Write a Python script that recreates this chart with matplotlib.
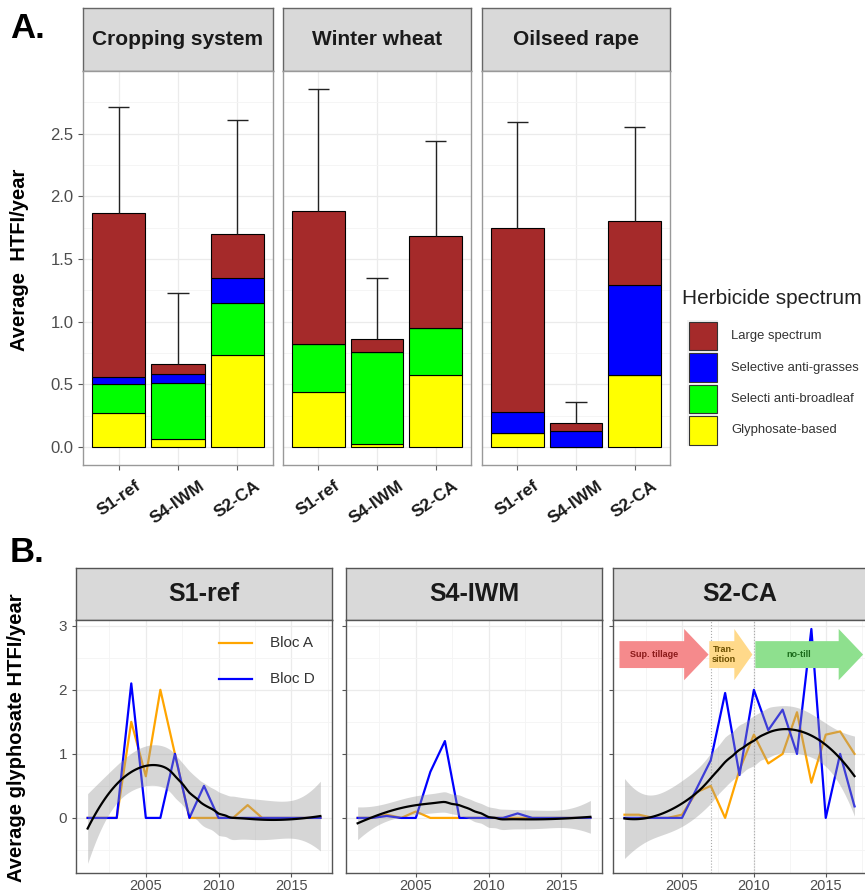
import numpy as np
import matplotlib
matplotlib.use("Agg")
import matplotlib.pyplot as plt
from matplotlib.patches import Rectangle, FancyArrow

plt.rcParams["font.family"] = ["Liberation Sans", "DejaVu Sans"]

W, H = 865, 892

# ---- panel A data: average HTFI per year, stacked by herbicide spectrum
crops = ["Cropping system", "Winter wheat", "Oilseed rape"]
systems = ["S1-ref", "S4-IWM", "S2-CA"]
spectra = ["Glyphosate-based", "Selecti anti-broadleaf",
           "Selective anti-grasses", "Large spectrum"]
spectrum_colors = ["#FFFF00", "#00FF00", "#0000FF", "#A52A2A"]
glyphosate = [[0.27, 0.06, 0.73], [0.44, 0.02, 0.57], [0.11, 0.00, 0.57]]
anti_broadleaf = [[0.23, 0.45, 0.42], [0.38, 0.74, 0.38], [0.00, 0.00, 0.00]]
anti_grasses = [[0.06, 0.07, 0.20], [0.00, 0.00, 0.00], [0.17, 0.13, 0.72]]
large_spectrum = [[1.31, 0.08, 0.35], [1.06, 0.10, 0.73], [1.47, 0.06, 0.51]]
htfi_sd = [[0.84, 0.57, 0.91], [0.98, 0.49, 0.76], [0.84, 0.17, 0.75]]

# ---- panel B data: glyphosate HTFI per year and bloc
years = list(range(2001, 2018))
bloc_names = ["Bloc A", "Bloc D"]
bloc_colors = ["#FFA500", "#0000FF"]
s1_bloc_a = [0, 0, 0, 1.5, 0.65, 2.0, 1.0, 0, 0, 0, 0, 0.2, 0, 0, 0, 0, 0]
s1_bloc_d = [0, 0, 0, 2.1, 0, 0, 1.0, 0, 0.5, 0, 0, 0, 0, 0, 0, 0, 0]
s4_bloc_a = [0, 0, 0.05, 0, 0.1, 0, 0, 0, 0, 0, 0, 0, 0, 0, 0, 0, 0]
s4_bloc_d = [0, 0, 0.03, 0, 0, 0.72, 1.2, 0, 0, 0, 0, 0.07, 0, 0, 0, 0, 0]
s2_bloc_a = [0.05, 0.05, 0, 0, 0.05, 0.4, 0.5, 0, 0.75, 1.3, 0.85, 1.0, 1.65,
             0.55, 1.3, 1.35, 1.0]
s2_bloc_d = [0, 0, 0, 0, 0, 0.45, 0.9, 1.95, 0.67, 2.0, 1.37, 1.69, 1.0,
             2.95, 0, 1.0, 0.18]

# S2-CA tillage phases
phases = ["Sup. tillage", "Tran-\nsition", "no-till"]
phase_start = [2000.65, 2006.9, 2010.1]
phase_end = [2006.85, 2009.9, 2017.6]
phase_colors = ["#F58A8C", "#FFD98A", "#8EE08E"]
phase_text_colors = ["#8B1A1A", "#6B4E00", "#1B6B1B"]


def px_axes(fig, x0, y0, x1, y1):
    return fig.add_axes([x0 / W, 1 - y1 / H, (x1 - x0) / W, (y1 - y0) / H])


def strip(fig, x0, y0, x1, y1, label, size, edge):
    ax = px_axes(fig, x0, y0, x1, y1)
    ax.set_facecolor("#D9D9D9")
    ax.set_xticks([])
    ax.set_yticks([])
    for s in ax.spines.values():
        s.set_color(edge)
        s.set_linewidth(1.0)
    ax.text(0.5, 0.5, label, ha="center", va="center", fontsize=size,
            fontweight="bold", color="#1A1A1A", transform=ax.transAxes)


def loess(x, y, xnew, span=0.75):
    # local quadratic fit, tricube weights (like R loess defaults)
    x = np.asarray(x, float)
    y = np.asarray(y, float)
    n = len(x)
    q = int(np.floor(n * span))

    def row(x0):
        d = np.abs(x - x0)
        h = np.sort(d)[q - 1] * 1.0001
        w = np.clip(1 - (d / h) ** 3, 0, None) ** 3
        X = np.vander(x - x0, 3, increasing=True)
        A = X.T @ (w[:, None] * X)
        return np.linalg.solve(A, X.T * w)[0]

    L = np.array([row(v) for v in x])
    resid = y - L @ y
    M = (np.eye(n) - L).T @ (np.eye(n) - L)
    d1 = np.trace(M)
    d2 = np.trace(M @ M)
    sigma = np.sqrt(resid @ resid / d1)
    df = d1 ** 2 / d2
    z = 1.959964
    tq = z + (z ** 3 + z) / (4 * df) + (5 * z ** 5 + 16 * z ** 3 + 3 * z) / (96 * df ** 2)
    Ln = np.array([row(v) for v in xnew])
    fit = Ln @ y
    se = sigma * np.sqrt((Ln ** 2).sum(axis=1))
    return fit, fit - tq * se, fit + tq * se


fig = plt.figure(figsize=(W / 100, H / 100), dpi=100)

# ================= A =================
fig.text(10 / W, 1 - 28 / H, "A.", fontsize=25, fontweight="bold",
         ha="left", va="center")
fig.text(20 / W, 1 - 260 / H, "Average  HTFI/year", fontsize=14.5,
         fontweight="bold", rotation=90, ha="center", va="center")

a_x = [(83, 273), (283, 471), (482, 670)]
stack = [glyphosate, anti_broadleaf, anti_grasses, large_spectrum]
pos = np.arange(len(systems))
for c, crop in enumerate(crops):
    x0, x1 = a_x[c]
    strip(fig, x0, 8, x1, 71, crop, 15, "#666666")
    ax = px_axes(fig, x0, 71, x1, 465)
    ax.set_xlim(-0.6, 2.6)
    ax.set_ylim(-0.145, 3.0)
    ax.set_yticks(np.arange(0, 2.51, 0.5))
    ax.set_yticks(np.arange(0.25, 2.8, 0.5), minor=True)
    ax.set_xticks(pos)
    ax.grid(True, which="major", color="#EBEBEB", lw=0.9)
    ax.grid(True, which="minor", axis="y", color="#F4F4F4", lw=0.6)
    ax.set_axisbelow(True)
    bottom = np.zeros(len(systems))
    for vals, col in zip(stack, spectrum_colors):
        v = np.array(vals[c])
        ax.bar(pos, v, 0.9, bottom=bottom, color=col, edgecolor="black",
               linewidth=0.8, zorder=2)
        bottom = bottom + v
    sd = np.array(htfi_sd[c])
    ax.vlines(pos, bottom, bottom + sd, color="#222222", lw=1.0, zorder=3)
    ax.hlines(bottom + sd, pos - 0.18, pos + 0.18, color="#222222", lw=1.0,
              zorder=3)
    ax.set_xticklabels(systems, rotation=35, ha="center", va="top",
                       fontsize=12.5, fontweight="bold", color="#1A1A1A")
    if c == 0:
        ax.set_yticklabels([f"{t:.1f}" for t in np.arange(0, 2.51, 0.5)],
                           fontsize=12, color="#4D4D4D")
    else:
        ax.tick_params(axis="y", which="both", left=False, labelleft=False)
    ax.tick_params(axis="both", which="major", length=3.5, color="#555555",
                   width=0.8)
    ax.tick_params(axis="x", pad=6)
    ax.tick_params(axis="y", which="minor", left=False)
    for s in ax.spines.values():
        s.set_color("#999999")
        s.set_linewidth(1.0)

# legend for A
lax = px_axes(fig, 675, 280, 865, 455)
lax.set_xlim(675, 865)
lax.set_ylim(455, 280)
lax.axis("off")
lax.text(682, 298, "Herbicide spectrum", fontsize=15, color="#222222",
         ha="left", va="center")
for i, (name, col) in enumerate(zip(spectra[::-1], spectrum_colors[::-1])):
    y0 = 320 + i * 31.5
    lax.add_patch(Rectangle((687, y0), 31, 31.5, facecolor="#F2F2F2",
                            edgecolor="none"))
    lax.add_patch(Rectangle((689, y0 + 1.5), 28, 28.5, facecolor=col,
                            edgecolor="#333333", lw=0.8))
    lax.text(731, y0 + 16, name, fontsize=9.4, color="#333333", ha="left",
             va="center")

# ================= B =================
fig.text(10 / W, 1 - 552 / H, "B.", fontsize=25, fontweight="bold",
         ha="left", va="center")
fig.text(17 / W, 1 - 738 / H, "Average glyphosate HTFI/year", fontsize=14.5,
         fontweight="bold", rotation=90, ha="center", va="center")

b_x = [(76, 332), (346, 602), (613, 866)]
b_systems = ["S1-ref", "S4-IWM", "S2-CA"]
b_data = [(s1_bloc_a, s1_bloc_d), (s4_bloc_a, s4_bloc_d), (s2_bloc_a, s2_bloc_d)]
yr = np.array(years, float)
xs = np.linspace(yr.min(), yr.max(), 120)
for k, name in enumerate(b_systems):
    x0, x1 = b_x[k]
    strip(fig, x0, 568, x1, 620, name, 18, "#555555")
    ax = px_axes(fig, x0, 620, x1, 873)
    ax.set_xlim(2000.2, 2017.8)
    ax.set_ylim(-0.86, 3.09)
    ax.set_xticks([2005, 2010, 2015])
    ax.set_xticks([2002.5, 2007.5, 2012.5, 2017.5], minor=True)
    ax.set_yticks([0, 1, 2, 3])
    ax.set_yticks([-0.5, 0.5, 1.5, 2.5], minor=True)
    ax.grid(True, which="major", color="#EBEBEB", lw=0.9)
    ax.grid(True, which="minor", color="#F4F4F4", lw=0.6)
    ax.set_axisbelow(True)
    bloc_a, bloc_d = b_data[k]
    for vals, col in zip((bloc_a, bloc_d), bloc_colors):
        ax.plot(yr, vals, color=col, lw=1.6, zorder=2)
    fit, lo, hi = loess(np.concatenate([yr, yr]),
                        np.concatenate([bloc_a, bloc_d]), xs)
    ax.fill_between(xs, lo, hi, color="#999999", alpha=0.4, lw=0, zorder=3)
    ax.plot(xs, fit, color="black", lw=1.6, zorder=4)
    ax.tick_params(axis="both", which="major", length=3, color="#555555",
                   width=0.8, labelsize=11, labelcolor="#4D4D4D")
    ax.tick_params(axis="x", labelsize=10.5, pad=1)
    ax.tick_params(which="minor", length=0)
    if k > 0:
        ax.tick_params(axis="y", labelleft=False)
    for s in ax.spines.values():
        s.set_color("#555555")
        s.set_linewidth(1.0)

    if k == 0:
        for i, (bn, col) in enumerate(zip(bloc_names, bloc_colors)):
            yy = 0.910 - i * 0.145
            ax.plot([0.559, 0.6875], [yy, yy], color=col, lw=1.6,
                    transform=ax.transAxes, zorder=5)
            ax.text(0.758, yy, bn, fontsize=11, color="#333333", ha="left",
                    va="center", transform=ax.transAxes)

    if k == 2:
        for yv in (phase_end[0] + 0.15, phase_end[1] + 0.1):
            ax.axvline(yv, color="#AAAAAA", lw=0.8, ls=":", zorder=1)
        for p, st, en, col, tcol in zip(phases, phase_start, phase_end,
                                        phase_colors, phase_text_colors):
            length = en - st
            hl = min(1.7, 0.42 * length)
            ax.add_patch(FancyArrow(st, 2.55, length, 0, width=0.42,
                                    head_width=0.8, head_length=hl,
                                    length_includes_head=True, color=col,
                                    lw=0, zorder=5))
            ax.text(st + (length - hl) / 2 + 0.15, 2.55, p, fontsize=6.5,
                    fontweight="bold", color=tcol, ha="center", va="center",
                    zorder=6, linespacing=1.1)

fig.savefig("out.png", dpi=100)
